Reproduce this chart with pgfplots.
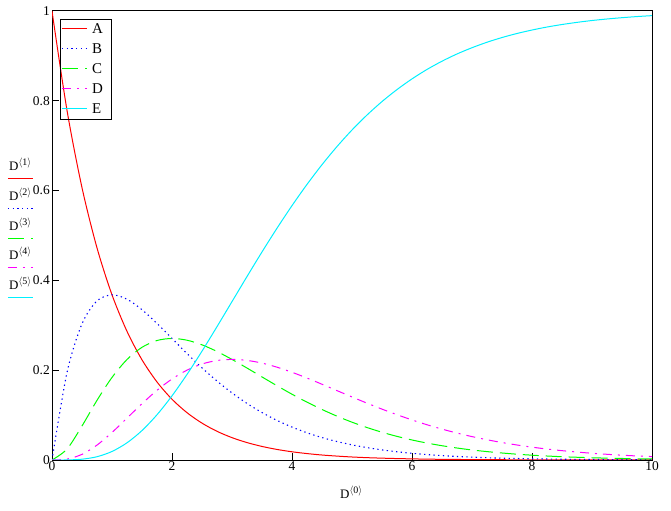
\documentclass[border=0pt]{standalone}
\usepackage{pgfplots}
\pgfplotsset{compat=1.18}
\usepackage{pgfplotstable}
\usepackage{fontspec}
\setmainfont{Liberation Serif}
\definecolor{cA}{RGB}{255,0,0}
\definecolor{cB}{RGB}{0,0,255}
\definecolor{cC}{RGB}{0,255,0}
\definecolor{cD}{RGB}{255,0,255}
\definecolor{cE}{RGB}{0,240,255}
\tikzset{
  sA/.style={cA, line width=1bp},
  sB/.style={cB, line width=1.1bp, dash pattern=on 1.3bp off 3.4bp},
  sC/.style={cC, line width=1bp, dash pattern=on 16bp off 7bp},
  sD/.style={cD, line width=1bp, dash pattern=on 9bp off 6bp on 2bp off 6bp},
  sE/.style={cE, line width=1bp},
}
\pgfplotstableread{
x A B C D E
0 1.0000 0.0000 0.0000 0.0000 0.0000
0.25 0.7788 0.1947 0.0243 0.0020 0.0001
0.5 0.6065 0.3033 0.0758 0.0126 0.0018
0.75 0.4724 0.3543 0.1329 0.0332 0.0073
1 0.3679 0.3679 0.1839 0.0613 0.0190
1.25 0.2865 0.3581 0.2238 0.0933 0.0383
1.5 0.2231 0.3347 0.2510 0.1255 0.0656
1.75 0.1738 0.3041 0.2661 0.1552 0.1008
2 0.1353 0.2707 0.2707 0.1804 0.1429
2.25 0.1054 0.2371 0.2668 0.2001 0.1906
2.5 0.0821 0.2052 0.2565 0.2138 0.2424
2.75 0.0639 0.1758 0.2417 0.2216 0.2970
3 0.0498 0.1494 0.2240 0.2240 0.3528
3.25 0.0388 0.1260 0.2048 0.2218 0.4086
3.5 0.0302 0.1057 0.1850 0.2158 0.4634
3.75 0.0235 0.0882 0.1654 0.2067 0.5162
4 0.0183 0.0733 0.1465 0.1954 0.5665
4.25 0.0143 0.0606 0.1288 0.1825 0.6138
4.5 0.0111 0.0500 0.1125 0.1687 0.6577
4.75 0.0087 0.0411 0.0976 0.1545 0.6981
5 0.0067 0.0337 0.0842 0.1404 0.7350
5.25 0.0052 0.0276 0.0723 0.1266 0.7683
5.5 0.0041 0.0225 0.0618 0.1133 0.7983
5.75 0.0032 0.0183 0.0526 0.1009 0.8250
6 0.0025 0.0149 0.0446 0.0892 0.8488
6.25 0.0019 0.0121 0.0377 0.0785 0.8698
6.5 0.0015 0.0098 0.0318 0.0688 0.8882
6.75 0.0012 0.0079 0.0267 0.0600 0.9043
7 0.0009 0.0064 0.0223 0.0521 0.9182
7.25 0.0007 0.0051 0.0187 0.0451 0.9304
7.5 0.0006 0.0041 0.0156 0.0389 0.9409
7.75 0.0004 0.0033 0.0129 0.0334 0.9499
8 0.0003 0.0027 0.0107 0.0286 0.9576
8.25 0.0003 0.0022 0.0089 0.0244 0.9643
8.5 0.0002 0.0017 0.0073 0.0208 0.9699
8.75 0.0002 0.0014 0.0061 0.0177 0.9747
9 0.0001 0.0011 0.0050 0.0150 0.9788
9.25 0.0001 0.0009 0.0041 0.0127 0.9822
9.5 0.0001 0.0007 0.0034 0.0107 0.9851
9.75 0.0001 0.0006 0.0028 0.0090 0.9876
10 0.0000 0.0005 0.0023 0.0076 0.9897
}\data
\newcommand\angsup[1]{\raisebox{5bp}{\fontsize{10}{12}\selectfont$\langle$#1$\rangle$}}
\begin{document}
\begin{tikzpicture}
\begin{axis}[
  at={(0bp,0bp)}, anchor=south west,
  scale only axis, width=600bp, height=449bp,
  xmin=0, xmax=10, ymin=0, ymax=1,
  xtick={0,2,4,6,8,10}, ytick={0,0.2,0.4,0.6,0.8,1},
  tick pos=left, tick align=inside, major tick length=7bp,
  every tick/.style={black, line width=1bp},
  axis line style={line width=1bp},
  tick label style={font=\fontsize{13.5}{15}\selectfont},
  /pgf/number format/assume math mode=true,
  xticklabel style={inner sep=1bp},
  yticklabel style={inner sep=2bp},
]
\addplot[sA, smooth] table[x=x,y=A] {\data};
\addplot[sB, smooth] table[x=x,y=B] {\data};
\addplot[sC, smooth] table[x=x,y=C] {\data};
\addplot[sD, smooth] table[x=x,y=D] {\data};
\addplot[sE, smooth] table[x=x,y=E] {\data};
\end{axis}
% legend box
\draw[black, line width=1bp] (8.5bp,340.5bp) rectangle (59.5bp,440.5bp);
\foreach \lab/\yy/\st in {A/431.5/sA,B/411.5/sB,C/391.5/sC,D/371.5/sD,E/351.5/sE}{
  \draw[\st] (10bp,\yy bp) -- (35bp,\yy bp);
  \node[anchor=base west, font=\fontsize{15}{17}\selectfont, inner sep=0pt] at (40bp,\yy bp-5.5bp) {\lab};
}
% y-label stack
\foreach \k/\yy/\st in {1/281.5/sA,2/251.5/sB,3/221.5/sC,4/192.5/sD,5/162.5/sE}{
  \node[anchor=base west, font=\fontsize{13}{15}\selectfont, inner sep=0pt] at (-43bp,\yy bp+7.5bp) {D\angsup{\k}};
  \draw[\st] (-44bp,\yy bp) -- (-19bp,\yy bp);
}
\node[anchor=base west, font=\fontsize{13}{15}\selectfont, inner sep=0pt] at (288bp,-38bp) {D\angsup{0}};
\pgfresetboundingbox
\path[use as bounding box] (-52bp,-51bp) rectangle (619bp,460bp);
\end{tikzpicture}
\end{document}
